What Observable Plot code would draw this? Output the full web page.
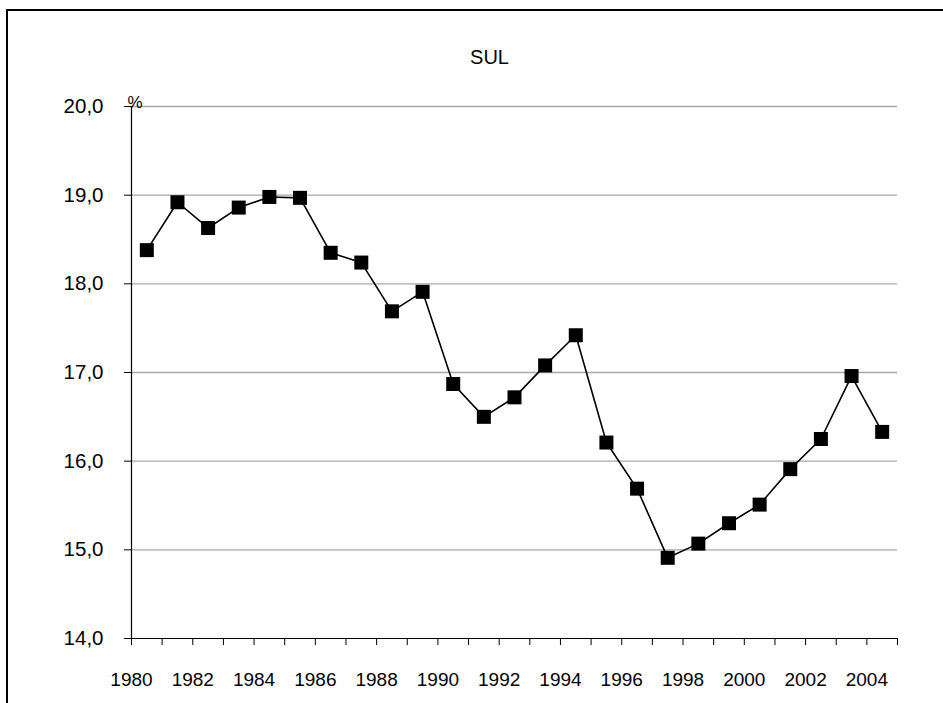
<!DOCTYPE html>
<html><head><meta charset="utf-8">
<script src="https://cdn.jsdelivr.net/npm/d3@7"></script>
<script src="https://cdn.jsdelivr.net/npm/@observablehq/plot@0.6"></script>
<style>
html,body{margin:0;padding:0;background:#fff;}
#wrap{position:relative;width:943px;height:703px;overflow:hidden;}
#frame{position:absolute;left:6px;top:9px;width:980px;height:740px;border-top:2px solid #000;border-left:2px solid #000;pointer-events:none;}
#wrap svg{position:absolute;left:0;top:0;}
</style></head><body><div id="wrap"><div id="frame"></div></div>
<script>
const title = "SUL";
const unitLabel = "%";
const years = [1980,1981,1982,1983,1984,1985,1986,1987,1988,1989,1990,1991,1992,1993,1994,1995,1996,1997,1998,1999,2000,2001,2002,2003,2004];
const values = [18.38,18.92,18.63,18.86,18.98,18.97,18.35,18.24,17.69,17.91,16.87,16.50,16.72,17.08,17.42,16.21,15.69,14.91,15.07,15.30,15.51,15.91,16.25,16.96,16.33];
const yTicks = [14,15,16,17,18,19,20];
const xTickYears = [1980,1981,1982,1983,1984,1985,1986,1987,1988,1989,1990,1991,1992,1993,1994,1995,1996,1997,1998,1999,2000,2001,2002,2003,2004,2005];
const xLabelYears = [1980,1982,1984,1986,1988,1990,1992,1994,1996,1998,2000,2002,2004];

const data = years.map((year, i) => ({year, value: values[i]}));
const fmt = v => v.toFixed(1).replace(".", ",");
const font = "'Liberation Sans', Arial, sans-serif";

const chart = Plot.plot({
  width: 943, height: 703,
  marginLeft: 131, marginRight: 46, marginTop: 106, marginBottom: 65,
  style: {fontFamily: font, fontSize: "19px", color: "#000", background: "transparent", overflow: "visible"},
  x: {domain: [1980, 2005], axis: null},
  y: {domain: [14, 20], axis: null},
  marks: [
    Plot.gridY(yTicks.filter(t => t > 14), {stroke: "#a8a8a8", strokeOpacity: 1, strokeWidth: 1.3}),
    Plot.axisY({ticks: yTicks, tickFormat: fmt, tickSize: 7, tickPadding: 21, fontSize: 20.5, stroke: "#000", label: null}),
    Plot.axisX({ticks: xTickYears, tickFormat: d => xLabelYears.includes(d) ? String(d) : "", tickSize: 7, tickPadding: 27, fontSize: 19, stroke: "#000", label: null}),
    Plot.ruleX([1980], {stroke: "#000", strokeWidth: 1.2}),
    Plot.ruleY([14], {stroke: "#000", strokeWidth: 1.2}),
    Plot.line(data, {x: d => d.year + 0.5, y: "value", stroke: "#000", strokeWidth: 1.6}),
    Plot.dot(data, {x: d => d.year + 0.5, y: "value", symbol: "square", r: 7.9, fill: "#000", stroke: "none"}),
    Plot.text([title], {frameAnchor: "top", dx: -25, dy: -57, fontSize: 20, fill: "#000"}),
    Plot.text([unitLabel], {frameAnchor: "top-left", dx: -4, dy: -11, fontSize: 17, fill: "#000"})
  ]
});
document.getElementById("wrap").appendChild(chart);
</script>
</body></html>
